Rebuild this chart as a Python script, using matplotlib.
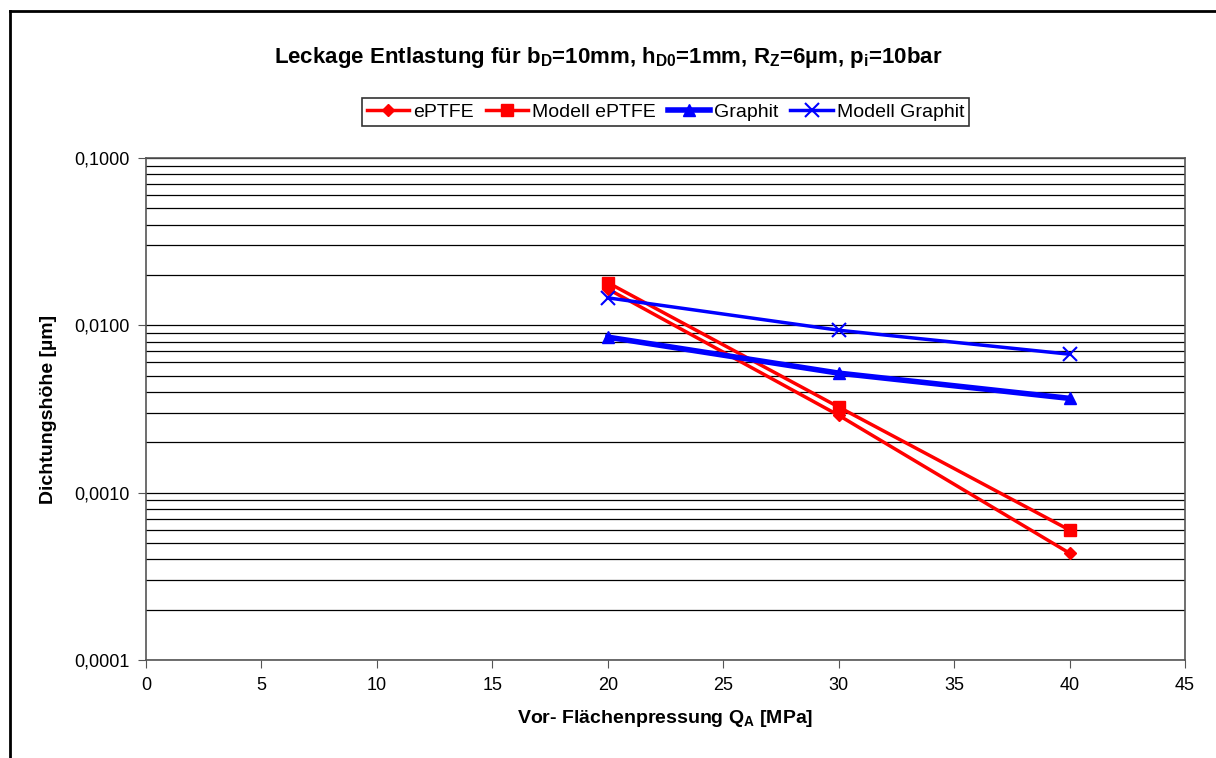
import matplotlib

matplotlib.use("Agg")

import matplotlib.pyplot as plt
from matplotlib.lines import Line2D
from matplotlib.ticker import FixedLocator, FuncFormatter, NullFormatter

plt.rcParams["font.family"] = ["Liberation Sans", "DejaVu Sans"]
plt.rcParams["mathtext.fontset"] = "custom"
plt.rcParams["mathtext.rm"] = "Liberation Sans"
plt.rcParams["mathtext.bf"] = "Liberation Sans:bold"
plt.rcParams["mathtext.it"] = "Liberation Sans:italic"

# data
pressure = [20, 30, 40]
eptfe = [0.0165, 0.00290, 0.000435]
modell_eptfe = [0.0180, 0.00325, 0.000598]
graphit = [0.0085, 0.00518, 0.00366]
modell_graphit = [0.0146, 0.00935, 0.00672]

x_ticks = [0, 5, 10, 15, 20, 25, 30, 35, 40, 45]
y_major = [0.0001, 0.001, 0.01, 0.1]

fig = plt.figure(figsize=(12.16, 7.58), dpi=100)
ax = fig.add_axes([146 / 1216, 1 - 660 / 758, (1185 - 146) / 1216, (660 - 158) / 758])

# outer chart frame (only left and top edges are inside the picture)
fx, fy = 9.5 / 1216, 1 - 11 / 758
fig.add_artist(Line2D([fx, fx], [0, fy], transform=fig.transFigure, color="black", lw=2))
fig.add_artist(Line2D([fx, 1], [fy, fy], transform=fig.transFigure, color="black", lw=2))

ax.plot(pressure, eptfe, color="red", lw=2.5, marker="D", ms=6, label="ePTFE")
ax.plot(pressure, modell_eptfe, color="red", lw=2.5, marker="s", ms=8, label="Modell ePTFE")
ax.plot(pressure, graphit, color="blue", lw=4, marker="^", ms=9, label="Graphit")
ax.plot(pressure, modell_graphit, color="blue", lw=2.5, marker="x", ms=10, mew=1.5,
        label="Modell Graphit")

ax.set_yscale("log")
ax.set_ylim(0.0001, 0.1)
ax.set_xlim(0, 45)
ax.set_xticks(x_ticks)
ax.yaxis.set_major_locator(FixedLocator(y_major))
ax.yaxis.set_major_formatter(FuncFormatter(lambda v, _: f"{v:.4f}".replace(".", ",")))
minor = [m * 10.0 ** e for e in range(-4, -1) for m in range(2, 10)]
ax.yaxis.set_minor_locator(FixedLocator(minor))
ax.yaxis.set_minor_formatter(NullFormatter())
ax.grid(True, axis="y", which="both", color="black", lw=0.9)
ax.set_axisbelow(True)
ax.tick_params(axis="both", which="major", labelsize=13, direction="out", length=6,
               color="#555555", pad=6)
ax.tick_params(axis="y", which="minor", length=0)
for side in ax.spines.values():
    side.set_color("#555555")
    side.set_linewidth(1.2)

ax.set_xlabel(r"Vor- Flächenpressung Q$_\mathbf{A}$ [MPa]", fontsize=14, fontweight="bold", labelpad=10)
ax.set_ylabel("Dichtungshöhe [µm]", fontsize=14, fontweight="bold", labelpad=12)

fig.text(0.5, 1 - 57 / 758,
         r"Leckage Entlastung für b$_\mathbf{D}$=10mm, h$_\mathbf{D0}$=1mm, "
         r"R$_\mathbf{Z}$=6µm, p$_\mathbf{i}$=10bar",
         ha="center", va="center", fontsize=16, fontweight="bold")

leg = ax.legend(loc="center", bbox_to_anchor=(0.5, 1 + (158 - 112) / 502), ncol=4,
                fontsize=14, frameon=True, fancybox=False, edgecolor="black",
                handlelength=2.2, handletextpad=0.2, columnspacing=0.6, borderpad=0.25)
leg.get_frame().set_linewidth(1.2)

fig.savefig("out.png", dpi=100)
plt.close(fig)
